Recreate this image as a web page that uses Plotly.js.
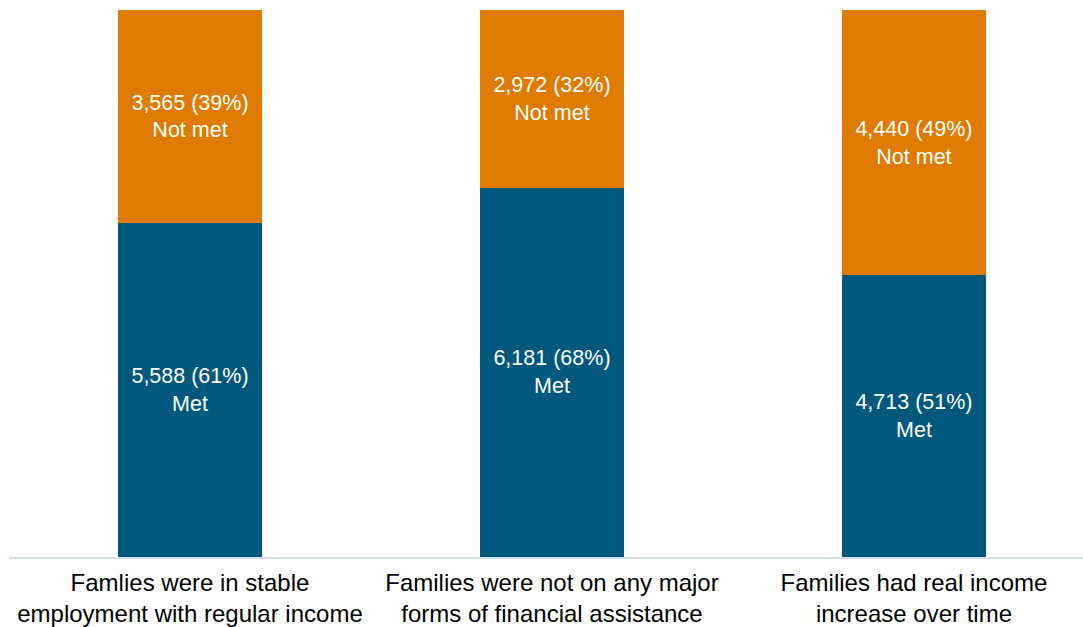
<!DOCTYPE html>
<html>
<head>
<meta charset="utf-8">
<script src="https://cdn.plot.ly/plotly-3.0.1.min.js"></script>
<style>html,body{margin:0;padding:0;background:#fff}#chart{width:1083px;height:627px}</style>
</head>
<body>
<div id="chart"></div>
<script>
const categories = [
  "Famlies were in stable<br>employment with regular income",
  "Families were not on any major<br>forms of financial assistance",
  "Families had real income<br>increase over time"
];
const metValues = [5588, 6181, 4713];
const notMetValues = [3565, 2972, 4440];
const metPct = [61, 68, 51];
const notMetPct = [39, 32, 49];
const fmt = v => v.toLocaleString('en-US');

const labelFont = {family: 'Liberation Sans, Arial, sans-serif', size: 21.5, color: '#ffffff'};

const metTrace = {
  type: 'bar', x: categories, y: metValues, name: 'Met',
  marker: {color: '#00597C'},
  text: metValues.map((v, i) => fmt(v) + ' (' + metPct[i] + '%)<br>Met'),
  textposition: 'inside', insidetextanchor: 'middle',
  textfont: labelFont, constraintext: 'none',
  hoverinfo: 'none', width: 0.4
};
const notMetTrace = {
  type: 'bar', x: categories, y: notMetValues, name: 'Not met',
  marker: {color: '#DF7B00'},
  text: notMetValues.map((v, i) => fmt(v) + ' (' + notMetPct[i] + '%)<br>Not met'),
  textposition: 'inside', insidetextanchor: 'middle',
  textfont: labelFont, constraintext: 'none',
  hoverinfo: 'none', width: 0.4
};

const layout = {
  width: 1083, height: 627,
  barmode: 'stack',
  showlegend: false,
  margin: {l: 9, r: 0, t: 10, b: 70},
  paper_bgcolor: '#ffffff', plot_bgcolor: '#ffffff',
  font: {family: 'Liberation Sans, Arial, sans-serif', size: 20, color: '#000000'},
  uniformtext: {mode: false},
  xaxis: {
    type: 'category', range: [-0.5, 2.467],
    showline: true, linecolor: '#D6DFEF', linewidth: 2,
    ticks: '', showgrid: false, zeroline: false,
    ticklabelstandoff: 3,
    tickfont: {family: 'Liberation Sans, Arial, sans-serif', size: 24, color: '#000000'}
  },
  yaxis: {
    range: [0, 9153], visible: false, showgrid: false, zeroline: false
  }
};

Plotly.newPlot('chart', [metTrace, notMetTrace], layout, {displayModeBar: false, staticPlot: true});
</script>
</body>
</html>
